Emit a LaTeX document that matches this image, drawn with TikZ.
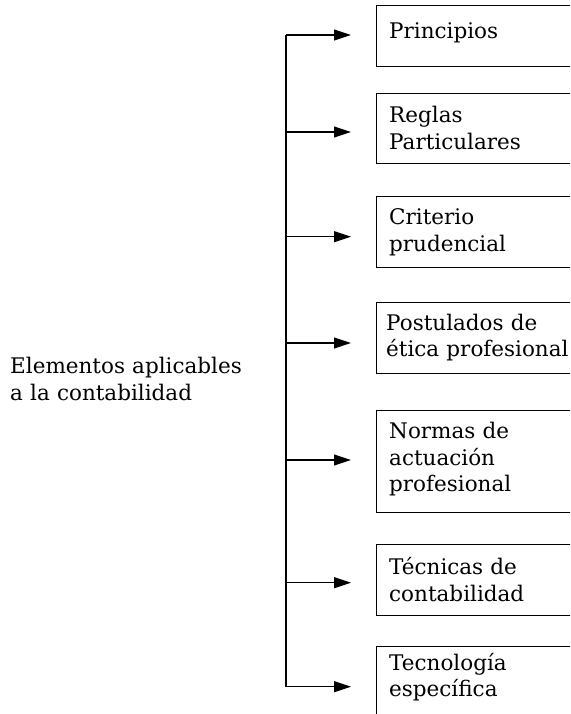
\documentclass[tikz,border=0pt]{standalone}
\usepackage{fontspec}
\setmainfont{DejaVu Serif}
\usetikzlibrary{arrows.meta}
\begin{document}
\begin{tikzpicture}[x=1pt,y=-1pt,
  box/.style={draw, line width=1pt, inner sep=0pt, anchor=north west, minimum width=204pt},
  txt/.style={anchor=north west, inner sep=0pt, text width=200pt, align=left,
    font=\fontsize{21.5}{26.7}\selectfont, execute at begin node={\noindent\strut}},
  conn/.style={line width=1.1pt},
  arr/.style={conn, -{Triangle[length=17pt,width=11pt]}}]
\clip (0,0) rectangle (570,714);
% boxes
\node[box, minimum height=61pt]   (b1) at (376,5) {};
\node[box, minimum height=70.3pt] (b2) at (376,92.7) {};
\node[box, minimum height=71pt]   (b3) at (376,196) {};
\node[box, minimum height=70.7pt] (b4) at (376,302) {};
\node[box, minimum height=101.7pt] (b5) at (376,410) {};
\node[box, minimum height=71pt]   (b6) at (376,544) {};
\node[box, minimum height=90pt]   (b7) at (376,646) {};
% texts
\node[txt] (t1) at (389,19.6) {Principios};
\node[txt] (t2) at (389,103.6) {Reglas\\Particulares};
\node[txt] (t3) at (389,205.6) {Criterio\\prudencial};
\node[txt] (t4) at (386,311.3) {Postulados de\\ética profesional};
\node[txt] (t5) at (389,419.6) {Normas de\\actuación\\profesional};
\node[txt] (t6) at (389,556) {Técnicas de\\contabilidad};
\node[txt] (t7) at (389,651.3) {Tecnología\\específica};
\node[txt, text width=260pt] (main) at (10,354.6) {Elementos aplicables\\a la contabilidad};
% connectors
\coordinate (s1) at (286,35);    \coordinate (e1) at (351,35);
\coordinate (s2) at (286,132);   \coordinate (e2) at (351,132);
\coordinate (s3) at (286,236.7); \coordinate (e3) at (351,236.7);
\coordinate (s4) at (286,343);   \coordinate (e4) at (351,343);
\coordinate (s5) at (286,460);   \coordinate (e5) at (351,460);
\coordinate (s6) at (286,582.7); \coordinate (e6) at (351,582.7);
\coordinate (s7) at (286,686.7); \coordinate (e7) at (351,686.7);
\draw[conn] (s1) -- (s7);
\foreach \i in {1,...,7} {\draw[arr] (s\i) -- (e\i);}
\end{tikzpicture}
\end{document}
